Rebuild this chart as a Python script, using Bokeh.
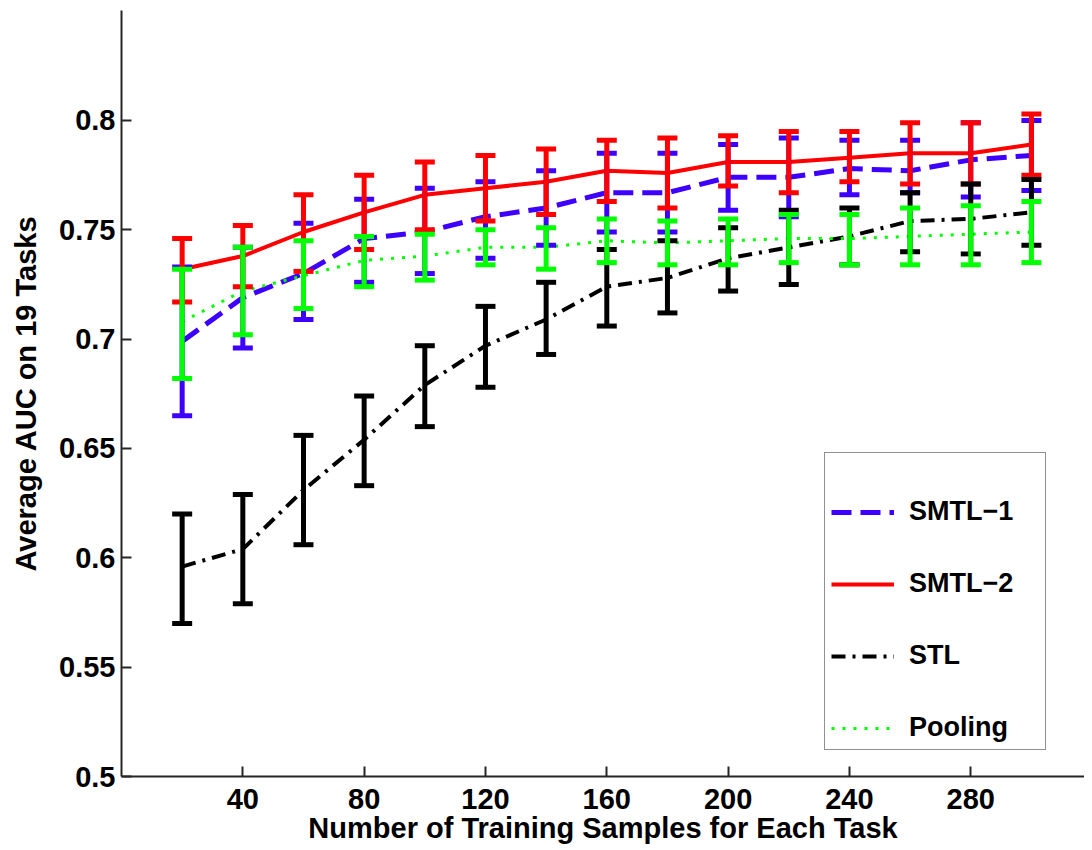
from bokeh.plotting import figure
from bokeh.models import (Range1d, FixedTicker, Whisker, TeeHead, ColumnDataSource,
                          Legend, LegendItem)
from bokeh.embed import file_html
from bokeh.resources import INLINE

# ---------------- data ----------------
samples = [20, 40, 60, 80, 100, 120, 140, 160, 180, 200, 220, 240, 260, 280, 300]

smtl1_mean = [0.699, 0.719, 0.730, 0.746, 0.749, 0.756, 0.760, 0.767, 0.767, 0.774, 0.774, 0.778, 0.777, 0.782, 0.784]
smtl1_low  = [0.665, 0.696, 0.709, 0.726, 0.730, 0.737, 0.743, 0.749, 0.749, 0.759, 0.756, 0.766, 0.767, 0.765, 0.768]
smtl1_high = [0.733, 0.742, 0.753, 0.764, 0.769, 0.772, 0.777, 0.785, 0.785, 0.789, 0.792, 0.791, 0.791, 0.799, 0.800]

smtl2_mean = [0.732, 0.738, 0.749, 0.758, 0.766, 0.769, 0.772, 0.777, 0.776, 0.781, 0.781, 0.783, 0.785, 0.785, 0.789]
smtl2_low  = [0.717, 0.724, 0.731, 0.741, 0.750, 0.754, 0.757, 0.763, 0.760, 0.770, 0.767, 0.772, 0.771, 0.771, 0.775]
smtl2_high = [0.746, 0.752, 0.766, 0.775, 0.781, 0.784, 0.787, 0.791, 0.792, 0.793, 0.795, 0.795, 0.799, 0.799, 0.803]

stl_mean = [0.596, 0.604, 0.631, 0.654, 0.679, 0.697, 0.709, 0.724, 0.728, 0.737, 0.742, 0.747, 0.754, 0.755, 0.758]
stl_low  = [0.570, 0.579, 0.606, 0.633, 0.660, 0.678, 0.693, 0.706, 0.712, 0.722, 0.725, 0.734, 0.740, 0.739, 0.743]
stl_high = [0.620, 0.629, 0.656, 0.674, 0.697, 0.715, 0.726, 0.741, 0.745, 0.751, 0.759, 0.760, 0.767, 0.771, 0.773]

pool_mean = [0.708, 0.722, 0.729, 0.736, 0.738, 0.742, 0.742, 0.745, 0.744, 0.745, 0.746, 0.746, 0.747, 0.748, 0.749]
pool_low  = [0.682, 0.702, 0.714, 0.724, 0.727, 0.734, 0.732, 0.735, 0.734, 0.734, 0.735, 0.734, 0.734, 0.734, 0.735]
pool_high = [0.732, 0.742, 0.745, 0.747, 0.748, 0.750, 0.751, 0.755, 0.754, 0.755, 0.757, 0.757, 0.760, 0.761, 0.763]

x_ticks = [40, 80, 120, 160, 200, 240, 280]
y_ticks = [0.5, 0.55, 0.6, 0.65, 0.7, 0.75, 0.8]
y_tick_labels = ["0.5", "0.55", "0.6", "0.65", "0.7", "0.75", "0.8"]

series_names = ["SMTL\u22121", "SMTL\u22122", "STL", "Pooling"]
series_colors = ["#3D00FF", "#FF0000", "#000000", "#00FF00"]
series_dash = ["20 9", "solid", "14 7 3 7", "3 8"]
series_width = [5, 4, 4, 3]

FONT = "Liberation Sans"

# ---------------- figure ----------------
p = figure(width=1084, height=846, output_backend="svg", toolbar_location=None,
           x_range=Range1d(0, 317.5), y_range=Range1d(0.5, 0.8503),
           min_border_left=121, min_border_right=0, min_border_top=10, min_border_bottom=66)
p.outline_line_color = None
p.grid.visible = False
p.background_fill_color = "white"
p.border_fill_color = "white"

for ax in (p.xaxis[0], p.yaxis[0]):
    ax.axis_line_color = "#262626"
    ax.axis_line_width = 2
    ax.major_tick_line_color = "#262626"
    ax.major_tick_line_width = 2
    ax.major_tick_in = 10
    ax.major_tick_out = 0
    ax.minor_tick_line_color = None
    ax.major_label_text_font = FONT
    ax.major_label_text_font_style = "bold"
    ax.major_label_text_font_size = "29px"
    ax.major_label_text_color = "black"
    ax.axis_label_text_font = FONT
    ax.axis_label_text_font_style = "bold"
    ax.axis_label_text_font_size = "29px"
    ax.axis_label_text_color = "black"

p.xaxis[0].ticker = FixedTicker(ticks=x_ticks)
p.yaxis[0].ticker = FixedTicker(ticks=y_ticks)
p.yaxis[0].major_label_overrides = {t: l for t, l in zip(y_ticks, y_tick_labels)}
p.xaxis[0].axis_label = "Number of Training Samples for Each Task"
p.yaxis[0].axis_label = "Average AUC on 19 Tasks"
p.xaxis[0].major_label_standoff = 12
p.xaxis[0].axis_label_standoff = 0
p.yaxis[0].major_label_standoff = 6
p.yaxis[0].axis_label_standoff = 14

means = [smtl1_mean, smtl2_mean, stl_mean, pool_mean]
lows = [smtl1_low, smtl2_low, stl_low, pool_low]
highs = [smtl1_high, smtl2_high, stl_high, pool_high]

legend_items = []
for name, col, dash, lw, m, lo, hi in zip(series_names, series_colors, series_dash,
                                          series_width, means, lows, highs):
    src = ColumnDataSource(dict(x=samples, y=m, lo=lo, hi=hi))
    r = p.line("x", "y", source=src, line_color=col, line_width=lw, line_dash=dash)
    legend_items.append(LegendItem(label=name, renderers=[r]))
    w = Whisker(base="x", lower="lo", upper="hi", source=src, dimension="height",
                line_color=col, line_width=5, level="glyph",
                upper_head=TeeHead(size=20, line_width=5, line_color=col),
                lower_head=TeeHead(size=20, line_width=5, line_color=col))
    p.add_layout(w)

legend = Legend(items=legend_items, location=(703, 26),
                label_text_font=FONT, label_text_font_style="bold",
                label_text_font_size="27px", label_text_color="black",
                glyph_width=63, glyph_height=30, label_height=30, label_width=130,
                label_standoff=15, spacing=41, padding=6,
                border_line_color="#222222", border_line_width=1.5,
                background_fill_color="white", background_fill_alpha=1.0,
                title=" ", title_text_font_size="14px", title_standoff=21)
p.add_layout(legend)

open("out.html", "w").write(file_html(p, INLINE))
